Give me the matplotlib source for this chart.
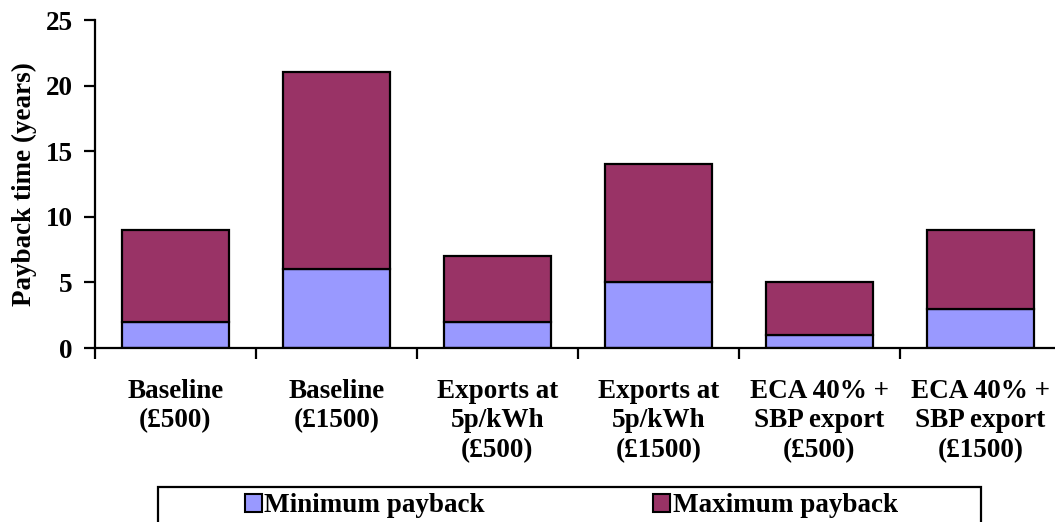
import numpy as np
import matplotlib.pyplot as plt
from matplotlib.patches import Rectangle

# dati
categorie = ['Baseline\n(£500)', 'Baseline\n(£1500)', 'Exports at\n5p/kWh\n(£500)',
             'Exports at\n5p/kWh\n(£1500)', 'ECA 40% +\nSBP export\n(£500)',
             'ECA 40% +\nSBP export\n(£1500)']
payback_min = [2, 6, 2, 5, 1, 3]
payback_max = [9, 21, 7, 14, 5, 9]

# la parte scura parte dal minimo e arriva al massimo
differenza = np.array(payback_max) - np.array(payback_min)

plt.rcParams['font.family'] = 'Liberation Serif'
plt.rcParams['font.weight'] = 'bold'
plt.rcParams['font.size'] = 19.5

fig = plt.figure(figsize=(10.55, 5.22), dpi=100)
ax = fig.add_axes([95 / 1055, 174 / 522, 966 / 1055, 328 / 522])

x = np.arange(len(categorie))
ax.bar(x, payback_min, width=0.665, color='#9999FF', edgecolor='black', linewidth=1.6,
       label='Minimum payback')
ax.bar(x, differenza, bottom=payback_min, width=0.665, color='#993366', edgecolor='black',
       linewidth=1.6, label='Maximum payback')

ax.set_xlim(-0.5, 5.5)
ax.set_ylim(0, 25)
ax.set_yticks([0, 5, 10, 15, 20, 25])
ax.set_ylabel('Payback time (years)', fontweight='bold', labelpad=6)

# etichette delle categorie al centro, tacche tra le categorie
ax.set_xticks(x)
ax.set_xticklabels(categorie, fontweight='bold', linespacing=1.25)
ax.tick_params(axis='x', length=0, pad=22)
ax.set_xticks(np.arange(-0.5, 6.0, 1.0), minor=True)
ax.tick_params(axis='x', which='minor', length=8, width=1.6, direction='out')
ax.tick_params(axis='y', length=8, width=1.6, direction='out', pad=8)

ax.spines['top'].set_visible(False)
ax.spines['right'].set_visible(False)
ax.spines['left'].set_linewidth(1.6)
ax.spines['bottom'].set_linewidth(1.6)

# legenda senza cornice, la cornice la disegno a mano
leg = fig.legend(loc='center left', bbox_to_anchor=(231 / 1055, 16 / 522), ncol=2,
                 frameon=False, borderpad=0, handlelength=0.63, handleheight=0.63,
                 handletextpad=0.1, columnspacing=6.2, prop={'weight': 'bold', 'size': 19.5})
for h in leg.legend_handles:
    h.set_linewidth(1.5)

cornice = Rectangle((158 / 1055, -0.05), 823 / 1055, 35 / 522 + 0.05,
                    transform=fig.transFigure, fill=False, edgecolor='black',
                    linewidth=1.6, clip_on=False)
fig.add_artist(cornice)

plt.savefig('out.png', dpi=100)
